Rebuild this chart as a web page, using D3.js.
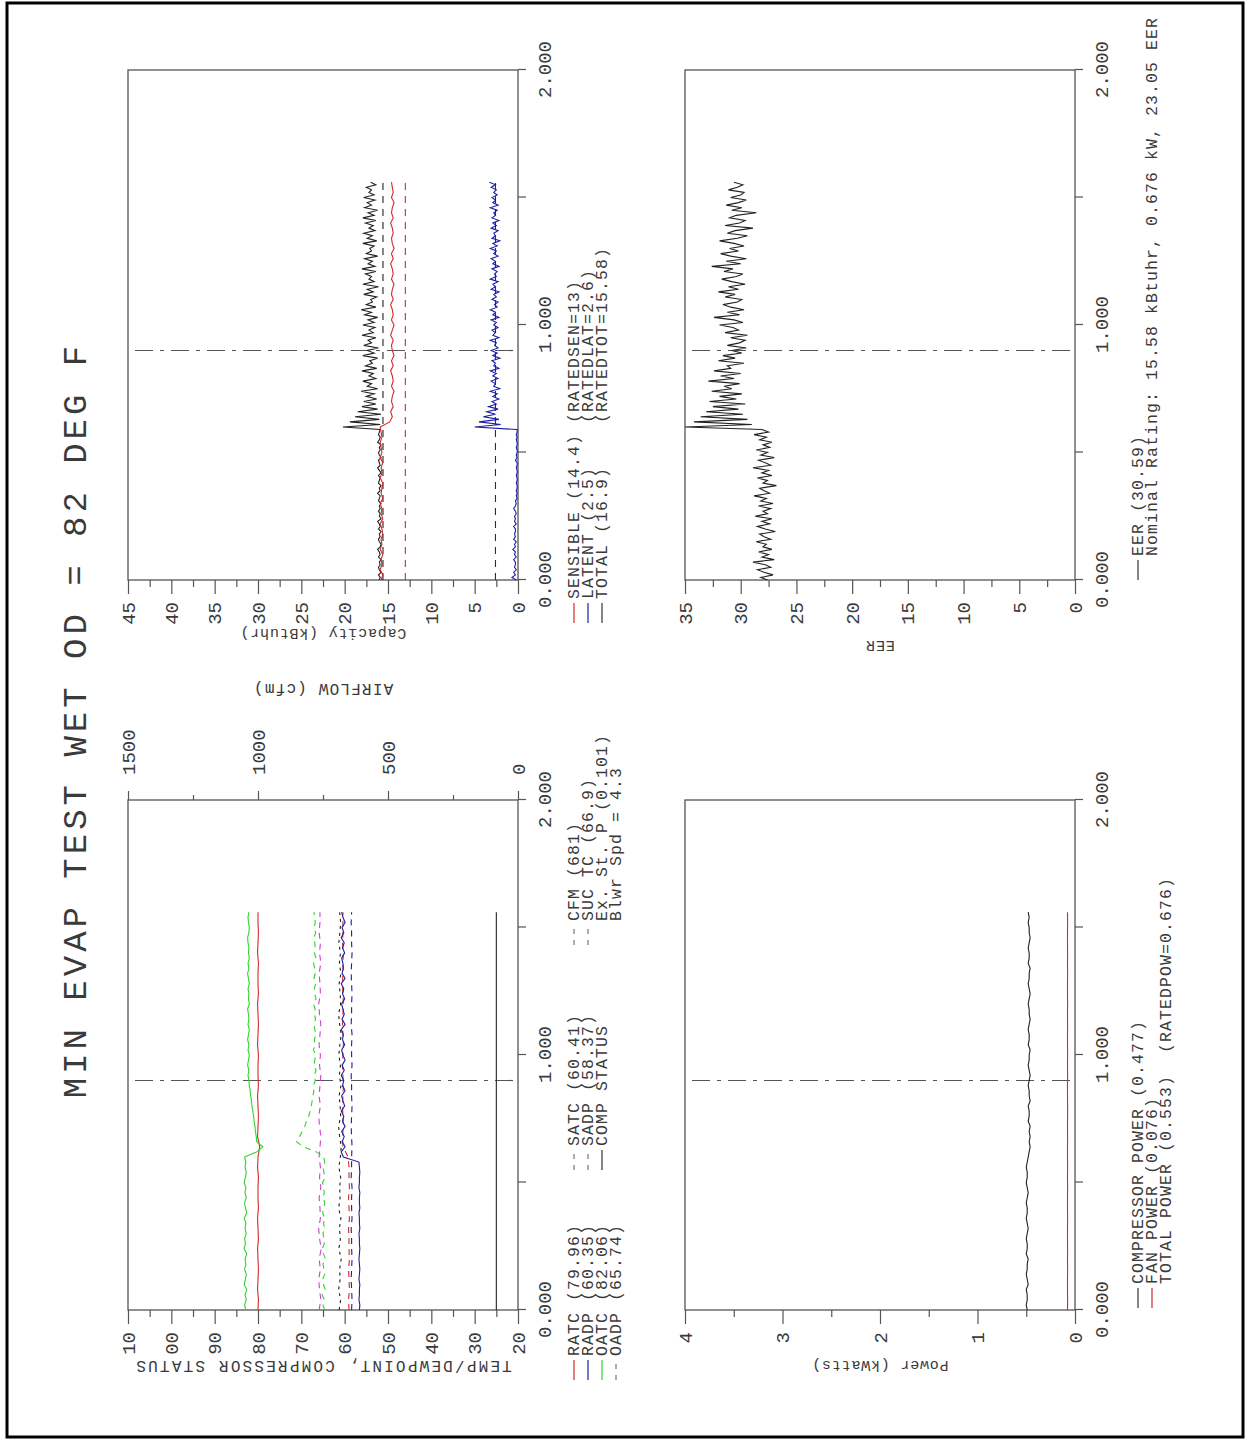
<!DOCTYPE html>
<html>
<head>
<meta charset="utf-8">
<script src="https://cdn.jsdelivr.net/npm/d3@7"></script>
<style>
body { margin: 0; background: #fff; }
text { font-family: "Liberation Mono", "DejaVu Sans Mono", monospace; fill: #3a3a3a; }
</style>
</head>
<body>
<svg width="1251" height="1441"></svg>
<script>
// sampling of the logged data (hours)
var denseStep = 0.01, fineStep = 0.02, coarseStep = 0.04, runEnd = 1.56;
var timeTicks = [0, 0.5, 1, 1.5, 2];
var markTime = 0.9;

// ---- temperature / dewpoint panel ----
var ratc = [80.0,79.9,80.1,80.0,79.9,80.0,80.1,79.9,80.0,80.1, 79.9,80.0,80.0,79.9,80.1,80.0,79.6,80.1,80.0,79.9,
            80.0,80.1,79.9,80.0,80.0,79.9,80.1,80.0,79.9,80.0, 80.1,79.9,80.0,80.0,79.9,80.1,80.0,79.9,80.0,80.0];
var radp = [56.6,56.5,56.7,56.6,56.6,56.5,56.7,56.6,56.5,56.6, 56.7,56.6,56.5,56.6,56.6,56.7,56.5,56.6,56.6,56.7,
            56.5,56.6,56.6,56.5,56.7,56.6,56.6,56.5,56.6,56.7, 60.3,60.8,59.9,60.6,60.1,60.7,59.9,60.5,60.2,60.8,
            60.0,60.4,60.7,59.9,60.5,60.2,60.8,60.1,60.6,59.9, 60.4,60.7,60.0,60.5,60.3,60.8,59.9,60.6,60.1,60.4,
            60.7,60.0,60.5,60.2,60.8,59.9,60.6,60.3,60.4,60.7, 60.0,60.5,60.1,60.8,60.2,60.6,59.9,60.4,60.7];
var oatc = [82.8,83.1,82.7,83.0,82.6,83.2,82.9,82.7,83.1,82.8, 83.0,82.6,83.2,82.9,83.1,82.7,83.0,82.8,83.2,82.6,
            82.9,83.1,82.7,83.0,82.8,83.2,82.9,82.7,83.0,82.8, 83.1,80.3,78.9,80.3,80.4,80.6,80.7,80.9,81.0,81.2,
            81.4,81.5,81.7,81.8,82.0,82.1,82.3,82.1,82.4,82.2, 82.0,82.3,82.1,82.4,82.2,82.0,82.3,82.1,82.2,82.4,
            82.0,82.2,82.1,82.3,82.0,82.2,82.4,82.1,82.3,82.0, 82.2,82.1,82.3,82.4,82.1,82.0,82.2,82.3,82.1];
var oadp = [65.9,65.5,65.8,66.0,65.6,65.9,65.4,65.8,66.0,65.6, 65.7,65.9,65.5,65.8,65.6,65.9,65.7,65.5,65.8,66.0,
            65.6,65.9,65.7,65.5,65.8,65.6,65.9,65.7,65.5,65.8, 66.0,65.6,65.7,65.9,65.5,65.8,65.6,65.9,65.7,65.7];
var satc = [59.0,59.1,58.9,59.0,59.1,58.9,59.0,59.0,59.1,58.9, 59.0,59.1,58.9,59.0,59.0,59.2,60.4,60.5,60.3,60.4,
            60.5,60.4,60.3,60.4,60.5,60.4,60.3,60.4,60.5,60.4, 60.3,60.4,60.5,60.4,60.4,60.3,60.5,60.4,60.4,60.4];
var sadp = [58.4,58.3,58.4,58.5,58.4,58.3,58.4,58.4,58.5,58.3, 58.4,58.4,58.3,58.5,58.4,58.4,58.3,58.4,58.5,58.4,
            58.3,58.4,58.4,58.5,58.3,58.4,58.4,58.3,58.5,58.4, 58.4,58.3,58.4,58.5,58.4,58.3,58.4,58.4,58.5,58.4];
var sucTc = [64.6,65.0,64.7,65.2,64.5,64.9,65.1,64.6,64.8,65.0, 64.4,64.9,65.2,64.7,64.8,65.0,64.6,64.9,64.5,65.1,
             64.8,64.6,65.0,64.7,64.9,65.1,64.5,64.8,65.0,64.6, 64.8,66.5,69.5,71.1,70.4,69.8,69.2,68.8,68.3,68.0,
             67.7,67.5,67.3,67.1,67.2,66.8,67.0,66.6,67.1,66.9, 66.7,67.2,66.8,67.0,66.6,66.9,67.1,66.7,67.0,66.8,
             67.2,66.6,66.9,67.0,66.7,67.1,66.8,66.9,67.2,66.6, 67.0,66.8,66.9,67.1,66.7,67.0,66.8,66.9,67.1];
var compStatus = [25, 25];
var cfm = [688,682,690,684,686,680,689,683,687,681, 690,684,686,682,689,683,680,686,690,682,
           684,688,681,687,683,689,685,680,686,690, 682,684,688,681,687,683,689,685,682,686];

// ---- capacity panel (kBtuhr) ----
var sensible = [15.8,15.6,15.9,15.7,15.8,15.6,15.9,15.7,15.8,15.6, 15.7,15.9,15.6,15.8,15.7,15.9,15.6,15.8,15.7,15.6,
                15.9,15.7,15.8,15.6,15.9,15.7,15.8,15.9,15.7,15.8, 15.9,14.8,14.5,14.7,14.4,14.6,14.5,14.3,14.6,14.4,
                14.5,14.7,14.4,14.6,14.3,14.5,14.6,14.4,14.7,14.5, 14.3,14.6,14.4,14.5,14.7,14.4,14.6,14.5,14.3,14.6,
                14.4,14.5,14.7,14.4,14.6,14.3,14.5,14.6,14.4,14.5, 14.7,14.4,14.6,14.5,14.3,14.6,14.4,14.5,14.6];
var latent = [0.2,0.7,0.3,0.5,0.2,0.4,0.3,0.3,0.5,0.2, 0.4,0.3,0.6,0.3,0.4,0.2,0.5,0.3,0.4,0.3,
              0.3,0.5,0.2,0.4,0.3,0.4,0.2,0.3,0.5,0.3, 0.2,0.3,0.1,0.2,0.1,0.2,0.1,0.1,0.2,0.1,
              0.1,0.2,0.1,0.1,0.2,0.1,0.1,0.3,0.1,0.2, 0.1,0.1,0.2,0.1,0.1,0.2,0.1,0.2,0.1,0.1,
              5.0,2.0,4.5,2.2,4.0,2.6,3.6,2.3,3.4,2.5, 3.0,2.2,2.9,2.4,3.2,2.1,2.8,2.6,3.1,2.3,
              2.9,2.5,3.2,2.2,2.8,2.6,3.0,2.1,2.9,2.4, 3.1,2.3,2.7,2.5,3.2,2.2,2.9,2.6,3.0,2.3,
              2.8,2.5,3.1,2.2,2.9,2.6,3.2,2.4,2.7,2.3, 3.0,2.5,2.8,2.2,3.1,2.6,2.9,2.3,3.2,2.5,
              2.7,2.4,3.0,2.2,2.9,2.6,3.1,2.3,2.8,2.5, 3.2,2.4,2.9,2.1,3.0,2.6,2.8,2.3,3.1,2.5,
              2.9,2.2,3.0,2.6,2.8,2.4,3.2,2.3,2.9,2.6, 3.0,2.4,2.8,2.5,3.1,2.6,3.3];
var total = [16.0,15.9,16.1,15.8,16.0,16.1,15.9,16.0,15.8,16.1, 15.9,16.0,16.2,15.9,15.8,16.0,16.1,15.9,16.0,15.8,
             16.1,15.9,16.0,16.2,15.8,16.0,15.9,16.1,15.9,16.0, 15.8,16.1,16.0,15.9,16.2,15.9,16.0,15.8,16.1,16.0,
             15.9,16.1,15.8,16.0,16.2,15.9,16.0,16.1,15.8,16.0, 16.1,15.9,16.0,15.8,16.2,16.0,15.9,16.1,16.0,15.9,
             20.2,15.9,19.4,16.0,18.8,15.8,18.5,16.2,18.0,16.4, 17.8,16.3,17.5,16.6,18.1,16.2,17.4,16.9,17.9,16.4,
             17.2,16.7,18.0,16.3,17.6,16.8,17.1,16.2,17.9,16.6, 17.4,16.1,17.8,16.9,17.3,16.4,18.0,16.7,17.2,16.5,
             17.9,16.6,17.3,16.2,17.7,16.9,18.1,16.4,17.5,16.8, 17.0,16.3,17.8,16.7,17.4,16.1,17.9,16.6,17.2,16.9,
             17.6,16.4,18.0,16.5,17.3,16.8,17.7,16.2,17.5,16.9, 17.1,16.6,17.9,16.3,17.4,16.8,17.8,16.5,17.2,16.7,
             17.6,16.4,17.9,16.6,17.3,16.2,17.7,16.9,17.4,16.5, 17.8,16.6,17.2,16.9,17.5,16.4,17.0];
var ratedSen = [13, 13], ratedLat = [2.6, 2.6], ratedTot = [15.58, 15.58];

// ---- power panel (kW) ----
var compPower = [0.49,0.50,0.49,0.49,0.50,0.48,0.49,0.50,0.49,0.49, 0.48,0.50,0.49,0.49,0.50,0.49,0.48,0.49,0.50,0.49,
                 0.49,0.50,0.49,0.48,0.49,0.50,0.49,0.49,0.50,0.49, 0.48,0.47,0.46,0.47,0.46,0.47,0.46,0.48,0.47,0.47,
                 0.48,0.46,0.47,0.47,0.48,0.47,0.46,0.47,0.48,0.47, 0.47,0.46,0.48,0.47,0.47,0.48,0.47,0.46,0.47,0.47,
                 0.48,0.47,0.46,0.47,0.48,0.47,0.47,0.46,0.48,0.47, 0.47,0.48,0.47,0.46,0.47,0.47,0.48,0.47,0.48];
var fanPower = [0.077,0.076,0.077,0.077,0.076,0.077,0.076,0.077,0.077,0.076, 0.077,0.077,0.076,0.077,0.076,0.077,0.077,0.076,0.077,0.076,
                0.076,0.077,0.077,0.076,0.077,0.076,0.077,0.077,0.076,0.077, 0.076,0.077,0.077,0.076,0.077,0.076,0.077,0.077,0.076,0.077];

// ---- EER panel ----
var eer = [27.6,28.2,27.1,27.9,28.5,27.3,27.8,28.9,27.0,28.1, 27.5,28.4,27.2,28.0,27.7,28.6,27.3,27.9,28.3,26.9,
           27.8,28.5,27.4,28.1,27.2,28.7,27.6,28.0,27.3,28.4, 27.1,28.2,27.7,28.8,27.4,27.9,28.3,26.8,28.0,27.6,
           28.5,27.2,28.1,27.5,28.9,27.3,27.8,28.4,27.0,28.2, 27.6,28.6,27.4,28.0,27.2,28.3,27.7,28.8,27.5,28.1,
           35.0,29.0,34.2,29.4,33.6,29.8,33.1,30.2,32.5,29.6, 32.8,30.4,31.9,29.9,32.6,30.8,31.5,30.1,32.9,30.6,
           31.8,30.0,32.4,30.9,31.2,29.7,32.0,30.5,31.6,29.9, 30.8,29.5,31.2,30.1,29.6,30.9,29.4,31.4,30.2,30.7,
           31.9,29.8,30.6,32.4,30.1,31.2,29.7,30.9,31.6,30.3, 29.9,31.4,30.5,32.0,30.2,31.1,29.6,30.8,31.7,30.4,
           29.8,31.5,30.7,32.6,30.0,31.3,29.5,30.9,31.8,30.2, 31.0,29.7,30.6,31.9,30.3,29.4,31.2,30.5,28.9,31.4,
           30.1,29.6,31.0,30.4,28.6,30.8,29.9,31.3,30.2,29.5, 30.9,30.0,29.7,31.1,30.3,29.8,30.6];

var red = '#d42a2a', blue = '#1e1ea6', green = '#2fd42f', magenta = '#d040d0', black = '#222';
var dashed = '6,5';

var svg = d3.select('svg');
svg.append('rect').attr('x', 7).attr('y', 3).attr('width', 1236).attr('height', 1434)
  .attr('fill', 'none').attr('stroke', '#000').attr('stroke-width', 3);

// the page is printed in landscape: draw landscape, turn it a quarter left
var g = svg.append('g').attr('transform', 'translate(0,1441) rotate(-90)');

var cols = [131, 861], rows = [128, 685], pw = 510, ph = 390;

function pts(values, step) {
  return values.map(function(v, i) { return [i * step, v]; });
}

function panel(cx, cy, yDomain, major, minor, fmt) {
  var x = d3.scaleLinear().domain([0, 2]).range([cx, cx + pw]);
  var y = d3.scaleLinear().domain(yDomain).range([cy + ph, cy]);
  var p = g.append('g');
  p.append('g').attr('transform', 'translate(' + cx + ',0)')
    .call(d3.axisLeft(y).tickValues(major).tickSize(14).tickPadding(8).tickFormat(fmt));
  p.append('g').attr('transform', 'translate(' + cx + ',0)')
    .call(d3.axisLeft(y).tickValues(minor).tickSize(7).tickFormat(''));
  p.append('g').attr('transform', 'translate(0,' + (cy + ph) + ')')
    .call(d3.axisBottom(x).tickValues(timeTicks).tickSize(8).tickPadding(12)
      .tickFormat(function(d) { return d % 1 === 0 ? d3.format('.3f')(d) : ''; }));
  p.append('rect').attr('x', cx).attr('y', cy).attr('width', pw).attr('height', ph)
    .attr('fill', 'none').attr('stroke', '#555').attr('stroke-width', 1.3);
  p.append('line').attr('x1', x(markTime)).attr('x2', x(markTime))
    .attr('y1', cy + 7).attr('y2', cy + ph)
    .attr('stroke', '#555').attr('stroke-width', 1.2).attr('stroke-dasharray', '18,7,4,7');
  return { x: x, y: y, g: p };
}

function series(pn, yScale, values, step, color, dash) {
  var line = d3.line().x(function(d) { return pn.x(d[0]); }).y(function(d) { return yScale(d[1]); });
  pn.g.append('path').datum(pts(values, step)).attr('d', line)
    .attr('fill', 'none').attr('stroke', color).attr('stroke-width', 1.1)
    .attr('stroke-dasharray', dash || null);
}

// temperature panel
var pT = panel(cols[0], rows[0], [20, 110], d3.range(20, 111, 10), d3.range(25, 110, 10),
  function(d) { return String(d).slice(-2); });
var yCfm = d3.scaleLinear().domain([0, 1500]).range([rows[0] + ph, rows[0]]);
pT.g.append('g').attr('transform', 'translate(' + (cols[0] + pw) + ',0)')
  .call(d3.axisRight(yCfm).tickValues([0, 500, 1000, 1500]).tickSize(9).tickPadding(16).tickFormat(d3.format('d')));
pT.g.append('g').attr('transform', 'translate(' + (cols[0] + pw) + ',0)')
  .call(d3.axisRight(yCfm).tickValues([250, 750, 1250]).tickSize(5).tickFormat(''));
series(pT, pT.y, compStatus, runEnd, black);
series(pT, pT.y, oadp, coarseStep, magenta, dashed);
series(pT, pT.y, sucTc, fineStep, green, dashed);
series(pT, pT.y, satc, coarseStep, red, dashed);
series(pT, pT.y, sadp, coarseStep, blue, dashed);
series(pT, yCfm, cfm, coarseStep, black, '3,4');
series(pT, pT.y, radp, fineStep, blue);
series(pT, pT.y, ratc, coarseStep, red);
series(pT, pT.y, oatc, fineStep, green);

// capacity panel
var pC = panel(cols[1], rows[0], [0, 45], d3.range(0, 46, 5), d3.range(2.5, 45, 5), d3.format('d'));
series(pC, pC.y, ratedTot, runEnd, black, '7,6');
series(pC, pC.y, ratedSen, runEnd, red, '7,6');
series(pC, pC.y, ratedLat, runEnd, blue, '7,6');
series(pC, pC.y, latent, denseStep, blue);
series(pC, pC.y, total, denseStep, black);
series(pC, pC.y, sensible, fineStep, red);

// power panel
var pP = panel(cols[0], rows[1], [0, 4], d3.range(0, 5, 1), d3.range(0.5, 4, 1), d3.format('d'));
series(pP, pP.y, fanPower, coarseStep, red);
series(pP, pP.y, compPower, fineStep, black);

// EER panel
var pE = panel(cols[1], rows[1], [0, 35], d3.range(0, 36, 5), d3.range(2.5, 35, 5), d3.format('d'));
series(pE, pE.y, eer, denseStep, black);

g.selectAll('.domain').remove();
g.selectAll('.tick line').attr('stroke', '#555').attr('stroke-width', 1.2);
g.selectAll('.tick text').attr('font-family', '"Liberation Mono", "DejaVu Sans Mono", monospace')
  .attr('font-size', 19).attr('fill', '#444');

// axis titles, standing upright in the landscape page
function vtitle(x, y, s, size, ls) {
  g.append('text').attr('transform', 'translate(' + x + ',' + y + ') rotate(-90)')
    .attr('text-anchor', 'middle').attr('font-size', size).attr('letter-spacing', ls).text(s);
}
vtitle(80, 323, 'TEMP/DEWPOINT, COMPRESSOR STATUS', 16, 2.2);
vtitle(757, 323, 'AIRFLOW (cfm)', 16, 1.2);
vtitle(812, 323, 'Capacity (kBtuhr)', 15, 0.8);
vtitle(80, 880, 'Power (kWatts)', 15, 0.8);
vtitle(800, 880, 'EER', 15, 0.8);

g.append('text').attr('x', 721).attr('y', 86).attr('text-anchor', 'middle')
  .attr('font-size', 34).attr('letter-spacing', 4).text('MIN EVAP TEST WET OD = 82 DEG F');

// legends
function legend(x0, y0, items) {
  items.forEach(function(it, i) {
    var yy = y0 + i * 14;
    if (it.line) {
      g.append('line').attr('x1', x0).attr('x2', x0 + 20).attr('y1', yy - 5).attr('y2', yy - 5)
        .attr('stroke', it.line).attr('stroke-width', 1.2)
        .attr('stroke-dasharray', it.dash ? '5,6' : null);
    }
    g.append('text').attr('x', x0 + 24).attr('y', yy).attr('font-size', 16.5)
      .attr('letter-spacing', 1.1).style('white-space', 'pre')
      .attr('fill', it.color || '#3a3a3a').text(it.text);
  });
}
legend(61, 579, [
  { line: red, color: red, text: 'RATC (79.96)' },
  { line: blue, color: blue, text: 'RADP (60.35)' },
  { line: green, color: green, text: 'OATC (82.06)' },
  { line: '#777', dash: true, color: magenta, text: 'OADP (65.74)' }
]);
legend(271, 579, [
  { line: '#777', dash: true, color: red, text: 'SATC (60.41)' },
  { line: '#777', dash: true, color: blue, text: 'SADP (58.37)' },
  { line: '#333', text: 'COMP STATUS' }
]);
legend(496, 579, [
  { line: '#777', dash: true, text: 'CFM (681)' },
  { line: '#777', dash: true, color: green, text: 'SUC TC (66.9)' },
  { text: 'Ex. St. P (0.101)' },
  { text: 'Blwr Spd = 4.3' }
]);
legend(818, 579, [
  { line: red, color: red, text: 'SENSIBLE (14.4) (RATEDSEN=13)' },
  { line: blue, color: blue, text: 'LATENT (2.5)    (RATEDLAT=2.6)' },
  { line: '#333', text: 'TOTAL (16.9)    (RATEDTOT=15.58)' }
]);
legend(133, 1143, [
  { line: '#333', text: 'COMPRESSOR POWER (0.477)' },
  { line: red, color: red, text: 'FAN POWER (0.076)' },
  { text: 'TOTAL POWER (0.553)  (RATEDPOW=0.676)' }
]);
legend(861, 1143, [
  { line: '#333', text: 'EER (30.59)' },
  { text: 'Nominal Rating: 15.58 kBtuhr, 0.676 kW, 23.05 EER' }
]);
</script>
</body>
</html>
